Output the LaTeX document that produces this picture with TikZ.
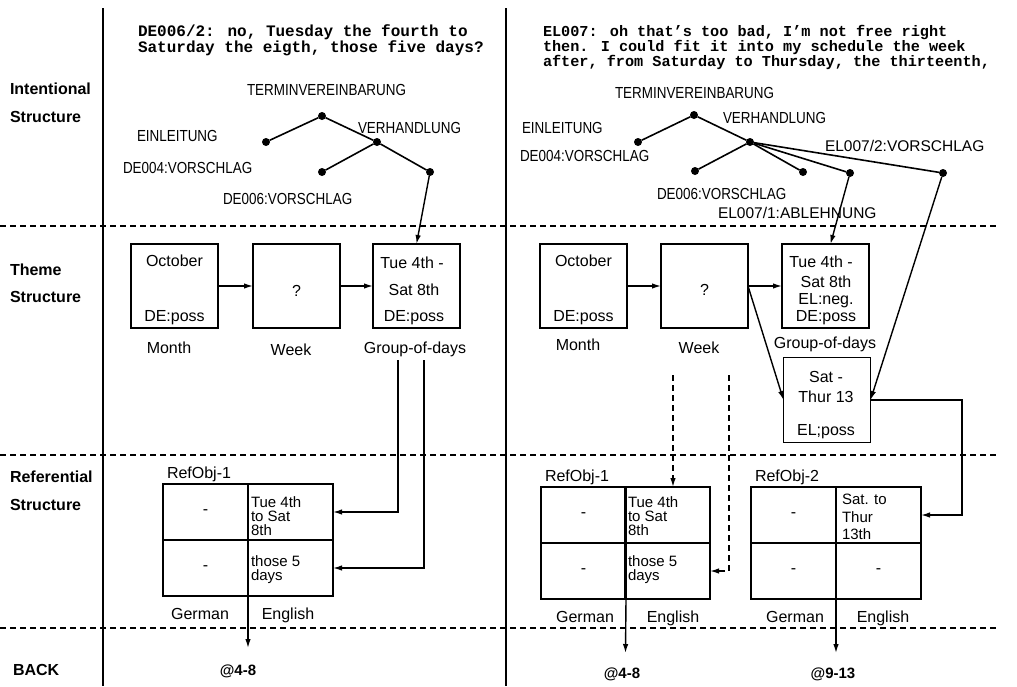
\documentclass[tikz,border=0pt]{standalone}
\usepackage{fontspec}
\setmainfont{Liberation Sans}
\newfontfamily\condsans{Liberation Sans}[FakeStretch=0.84]
\newfontfamily\monob{Liberation Mono}
\usetikzlibrary{arrows.meta}
\begin{document}
\begin{tikzpicture}[x=1pt,y=-1pt,
  every node/.style={inner sep=0pt, outer sep=0pt},
  rowlbl/.style={font=\fontsize{16}{18}\selectfont\bfseries, anchor=base west},
  caplbl/.style={font=\fontsize{16}{18}\selectfont\condsans, anchor=base west},
  capwide/.style={font=\fontsize{15.5}{18}\selectfont, anchor=base west},
  txt/.style={font=\fontsize{16}{18}\selectfont, anchor=base},
  reftxt/.style={font=\fontsize{15}{14}\selectfont, align=left, anchor=west},
  hdrl/.style={font=\fontsize{16}{16}\selectfont\monob\bfseries, anchor=base west},
  hdrr/.style={font=\fontsize{15.2}{16}\selectfont\monob\bfseries, anchor=base west},
  boxstyle/.style={draw, line width=1.6pt, minimum width=87pt, minimum height=84pt},
  cellstyle/.style={draw, line width=1.6pt, minimum width=85pt, minimum height=56pt},
  dotstyle/.style={circle, fill, minimum size=8pt},
  treeline/.style={line width=1.6pt},
  arr/.style={line width=1.4pt, -{Latex[length=9pt,width=5.5pt]}},
  sepline/.style={line width=1.4pt, dash pattern=on 6pt off 4pt},
]
\useasboundingbox (0,0) rectangle (1017,686);

% frame lines
\draw[line width=1.8pt] (103,8) -- (103,686);
\draw[line width=1.8pt] (506,8) -- (506,686);
\draw[sepline] (0,226) -- (998,226);
\draw[sepline] (0,455) -- (998,455);
\draw[sepline] (0,628) -- (998,628);

% row labels
\node[rowlbl] (li1) at (10,94) {Intentional};
\node[rowlbl] (li2) at (10,122) {Structure};
\node[rowlbl] (lt1) at (10,275) {Theme};
\node[rowlbl] (lt2) at (10,302) {Structure};
\node[rowlbl] (lr1) at (10,482) {Referential};
\node[rowlbl] (lr2) at (10,510) {Structure};
\node[rowlbl] (lbk) at (13,675) {BACK};

% headers
\node[hdrl] (hl1) at (138,36) {DE006/2: no, Tuesday the fourth to};
\node[hdrl] (hl2) at (138,52) {Saturday the eigth, those five days?};
\node[hdrr] (hr1) at (543,36) {EL007: oh that’s too bad, I’m not free right};
\node[hdrr] (hr2) at (543,51) {then. I could fit it into my schedule the week};
\node[hdrr] (hr3) at (543,66) {after, from Saturday to Thursday, the thirteenth,};

% ---------- left intentional tree
\node[caplbl] (lTv) at (247,95) {TERMINVEREINBARUNG};
\node[caplbl] (lEi) at (137,141) {EINLEITUNG};
\node[caplbl] (lVe) at (358,133) {VERHANDLUNG};
\node[caplbl] (lD4) at (123,173) {DE004:VORSCHLAG};
\node[caplbl] (lD6) at (223,204) {DE006:VORSCHLAG};
\node[dotstyle] (lroot) at (322,116) {};
\node[dotstyle] (leinl) at (266,142) {};
\node[dotstyle] (lverh) at (377,142) {};
\node[dotstyle] (lde4) at (322,172) {};
\node[dotstyle] (lde6) at (430,172) {};
\draw[treeline] (lroot) -- (leinl);
\draw[treeline] (lroot) -- (lverh);
\draw[treeline] (lverh) -- (lde4);
\draw[treeline] (lverh) -- (lde6);

% ---------- right intentional tree
\node[caplbl] (rTv) at (615,98) {TERMINVEREINBARUNG};
\node[caplbl] (rEi) at (522,133) {EINLEITUNG};
\node[caplbl] (rVe) at (723,123) {VERHANDLUNG};
\node[caplbl] (rD4) at (520,161) {DE004:VORSCHLAG};
\node[caplbl] (rD6) at (657,199) {DE006:VORSCHLAG};
\node[capwide] (rE2) at (825,151) {EL007/2:VORSCHLAG};
\node[capwide] (rE1) at (718,218) {EL007/1:ABLEHNUNG};
\node[dotstyle] (rroot) at (694,115) {};
\node[dotstyle] (reinl) at (638,142) {};
\node[dotstyle] (rverh) at (750,142) {};
\node[dotstyle] (rde4) at (695,171) {};
\node[dotstyle] (rde6) at (803,172) {};
\node[dotstyle] (rel1) at (850,173) {};
\node[dotstyle] (rel2) at (943,173) {};
\draw[treeline] (rroot) -- (reinl);
\draw[treeline] (rroot) -- (rverh);
\draw[treeline] (rverh) -- (rde4);
\draw[treeline] (rverh) -- (rde6);
\draw[treeline] (rverh) -- (rel1);
\draw[treeline] (rverh) -- (rel2);

% ---------- left theme structure
\node[boxstyle] (loct) at (174.5,286) {};
\node[boxstyle] (lweek) at (296.5,286) {};
\node[boxstyle] (lgrp) at (416.5,286) {};
\node[txt] (lo1) at (174.5,266) {October};
\node[txt] (lo2) at (174.5,321) {DE:poss};
\node[txt] (lw1) at (296.5,296) {?};
\node[txt] (lg1) at (412,268) {Tue 4th -};
\node[txt] (lg2) at (414,295) {Sat 8th};
\node[txt] (lg3) at (414,321) {DE:poss};
\node[txt] (lm) at (169,353) {Month};
\node[txt] (lwk) at (291,355) {Week};
\node[txt] (lgd) at (415,353) {Group-of-days};
\draw[arr] (loct.east) -- (lweek.west);
\draw[arr] (lweek.east) -- (lgrp.west);
\draw[arr] (lde6) -- (lgrp.north);

% ---------- right theme structure
\node[boxstyle] (roct) at (583.5,286) {};
\node[boxstyle] (rweek) at (704.5,286) {};
\node[boxstyle] (rgrp) at (825.5,286) {};
\node[boxstyle, minimum height=85pt] (rsat) at (827,400) {};
\node[txt] (ro1) at (583.5,266) {October};
\node[txt] (ro2) at (583.5,321) {DE:poss};
\node[txt] (rw1) at (704.5,295) {?};
\node[txt] (rg1) at (821,267) {Tue 4th -};
\node[txt] (rg2) at (826,287) {Sat 8th};
\node[txt] (rg3) at (826,304) {EL:neg.};
\node[txt] (rg4) at (826,321) {DE:poss};
\node[txt] (rs1) at (826,382) {Sat -};
\node[txt] (rs2) at (826,402) {Thur 13};
\node[txt] (rs3) at (826,435) {EL;poss};
\node[txt] (rm) at (578,350) {Month};
\node[txt] (rwk) at (699,353) {Week};
\node[txt] (rgd) at (825,348) {Group-of-days};
\draw[arr] (roct.east) -- (rweek.west);
\draw[arr] (rweek.east) -- (rgrp.west);
\draw[arr] (rweek.east) -- (rsat.west);
\draw[arr] (rel1) -- ([xshift=5pt]rgrp.north);
\draw[arr] (rel2) -- (rsat.east);

% ---------- left referential structure
\node[txt, anchor=base west] (lro) at (167,478) {RefObj-1};
\node[cellstyle] (l1a) at (205.5,512) {};
\node[cellstyle] (l1b) at (290.5,512) {};
\node[cellstyle] (l1c) at (205.5,568) {};
\node[cellstyle] (l1d) at (290.5,568) {};
\node[txt, anchor=center] (l1at) at (l1a.center) {-};
\node[txt, anchor=center] (l1ct) at (l1c.center) {-};
\node[reftxt] (l1bt) at (251,516) {Tue 4th\\to Sat\\8th};
\node[reftxt] (l1dt) at (251,570) {those 5\\days};
\node[txt] (lger) at (200,619) {German};
\node[txt] (leng) at (288,619) {English};
\coordinate (g1) at (398,360);
\coordinate (g2) at (424,360);
\draw[arr] (g1) |- (l1b.east);
\draw[arr] (g2) |- (l1d.east);
\coordinate (lbk1) at (248,648);
\draw[arr] (l1c.south east) -- (lbk1);
\node[txt, font=\fontsize{15}{18}\selectfont\bfseries] (lat) at (238,675) {@4-8};

% ---------- right referential structure
\node[txt, anchor=base west] (rro1) at (545,481) {RefObj-1};
\node[txt, anchor=base west] (rro2) at (755,481) {RefObj-2};
\node[cellstyle] (r1a) at (583.5,515) {};
\node[cellstyle] (r1b) at (667.5,515) {};
\node[cellstyle] (r1c) at (583.5,571) {};
\node[cellstyle] (r1d) at (667.5,571) {};
\node[cellstyle] (r2a) at (793.5,515) {};
\node[cellstyle] (r2b) at (878.5,515) {};
\node[cellstyle] (r2c) at (793.5,571) {};
\node[cellstyle] (r2d) at (878.5,571) {};
\node[txt, anchor=center] (r1at) at (r1a.center) {-};
\node[txt, anchor=center] (r1ct) at (r1c.center) {-};
\node[txt, anchor=center] (r2at) at (r2a.center) {-};
\node[txt, anchor=center] (r2ct) at (r2c.center) {-};
\node[txt, anchor=center] (r2dt) at (r2d.center) {-};
\node[reftxt] (r1bt) at (628,516) {Tue 4th\\to Sat\\8th};
\node[reftxt] (r1dt) at (628,570) {those 5\\days};
\node[reftxt, font=\fontsize{15}{17.5}\selectfont] (r2bt) at (842,517) {Sat. to\\Thur\\13th};
\node[txt] (rger1) at (585,622) {German};
\node[txt] (reng1) at (673,622) {English};
\node[txt] (rger2) at (795,622) {German};
\node[txt] (reng2) at (883,622) {English};
\coordinate (wd1) at (673,375);
\coordinate (wd2) at (729,375);
\draw[sepline, arr] (wd1) -- (wd1 |- r1b.north);
\draw[sepline, arr] (wd2) |- (r1d.east);
\coordinate (sr) at (962,400);
\draw[arr] (rsat.east) -- (sr) |- (r2b.east);
\coordinate (rbk1) at (625.5,653);
\coordinate (rbk2) at (836,653);
\draw[arr] (r1c.south east) -- (rbk1);
\draw[arr] (r2c.south east) -- (rbk2);
\node[txt, font=\fontsize{15}{18}\selectfont\bfseries] (rat1) at (622,678) {@4-8};
\node[txt, font=\fontsize{15}{18}\selectfont\bfseries] (rat2) at (833,678) {@9-13};
\end{tikzpicture}
\end{document}
